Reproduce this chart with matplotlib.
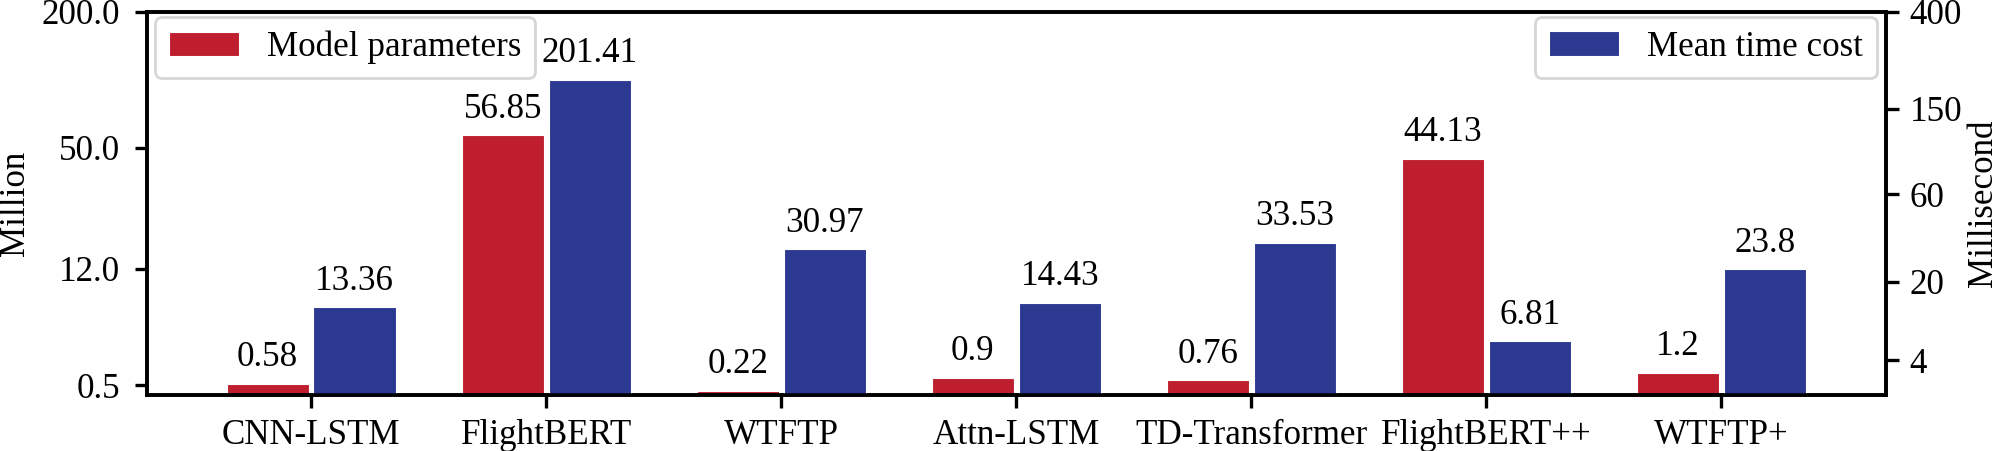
import numpy as np
import matplotlib
matplotlib.use('Agg')
import matplotlib.pyplot as plt

# Data
models = ['CNN-LSTM', 'FlightBERT', 'WTFTP', 'Attn-LSTM',
          'TD-Transformer', 'FlightBERT++', 'WTFTP+']
params_million = [0.58, 56.85, 0.22, 0.9, 0.76, 44.13, 1.2]
time_ms = [13.36, 201.41, 30.97, 14.43, 33.53, 6.81, 23.8]

left_ticks = [0.5, 12.0, 50.0, 200.0]
right_ticks = [4, 20, 60, 150, 400]

RED = '#BE1E2D'
BLUE = '#2B3990'
FS = 12.6

plt.rcParams['font.family'] = ['Liberation Serif', 'DejaVu Serif']
plt.rcParams['font.size'] = FS


def log_scale(c):
    # compressed axis: log(1 + v / c)
    return (lambda v: np.log1p(np.asarray(v, dtype=float) / c),
            lambda y: c * np.expm1(np.asarray(y, dtype=float)))


fig = plt.figure(figsize=(10, 2.255), dpi=200)
ax1 = fig.add_axes([0.0733, 0.1242, 0.8697, 0.8498])
ax2 = ax1.twinx()

x = np.arange(len(models))
w = 0.35
off = 0.185

ax1.set_yscale('function', functions=log_scale(5))
ax2.set_yscale('function', functions=log_scale(10))

b1 = ax1.bar(x - off, params_million, w, color=RED, edgecolor='white',
             linewidth=0.4, label='Model parameters')
b2 = ax2.bar(x + off, time_ms, w, color=BLUE, edgecolor='white',
             linewidth=0.4, label='Mean time cost')

for xi, v in zip(x, params_million):
    ax1.annotate(f'{v:g}', (xi - off, v), xytext=(0, 3.5), textcoords='offset points',
                 ha='center', va='bottom', fontsize=FS)
for xi, v in zip(x, time_ms):
    ax2.annotate(f'{v:g}', (xi + off, v), xytext=(0, 3.5), textcoords='offset points',
                 ha='center', va='bottom', fontsize=FS)

ax1.set_xlim(-0.7, len(models) - 0.3)
ax1.set_ylim(0, 200)
ax2.set_ylim(0, 400)

ax1.set_xticks(x)
ax1.set_xticklabels(models)
ax1.set_yticks(left_ticks)
ax1.set_yticklabels([f'{t:.1f}' for t in left_ticks])
ax1.yaxis.set_minor_locator(matplotlib.ticker.NullLocator())
ax2.set_yticks(right_ticks)
ax2.set_yticklabels([str(t) for t in right_ticks])
ax2.yaxis.set_minor_locator(matplotlib.ticker.NullLocator())

ax1.tick_params(axis='both', length=4.5, width=1.2, pad=5, labelsize=FS)
ax1.tick_params(axis='x', pad=4)
ax2.tick_params(axis='y', length=4.5, width=1.2, pad=4, labelsize=FS)

for ax in (ax1, ax2):
    for s in ax.spines.values():
        s.set_linewidth(1.3)

ax1.set_ylabel('Million', fontsize=FS)
ax1.yaxis.set_label_coords(-0.066, 0.5)
ax2.set_ylabel('Millisecond', fontsize=FS)
ax2.yaxis.set_label_coords(1.0465, 0.5)

leg1 = ax2.legend(handles=[b1], loc='upper left', bbox_to_anchor=(0.0048, 0.987),
                  borderaxespad=0, fontsize=FS)
ax2.add_artist(leg1)
ax2.legend(handles=[b2], loc='upper right', bbox_to_anchor=(0.9948, 0.987),
           borderaxespad=0, fontsize=FS)

fig.savefig('out.png', dpi=200, facecolor='white')
